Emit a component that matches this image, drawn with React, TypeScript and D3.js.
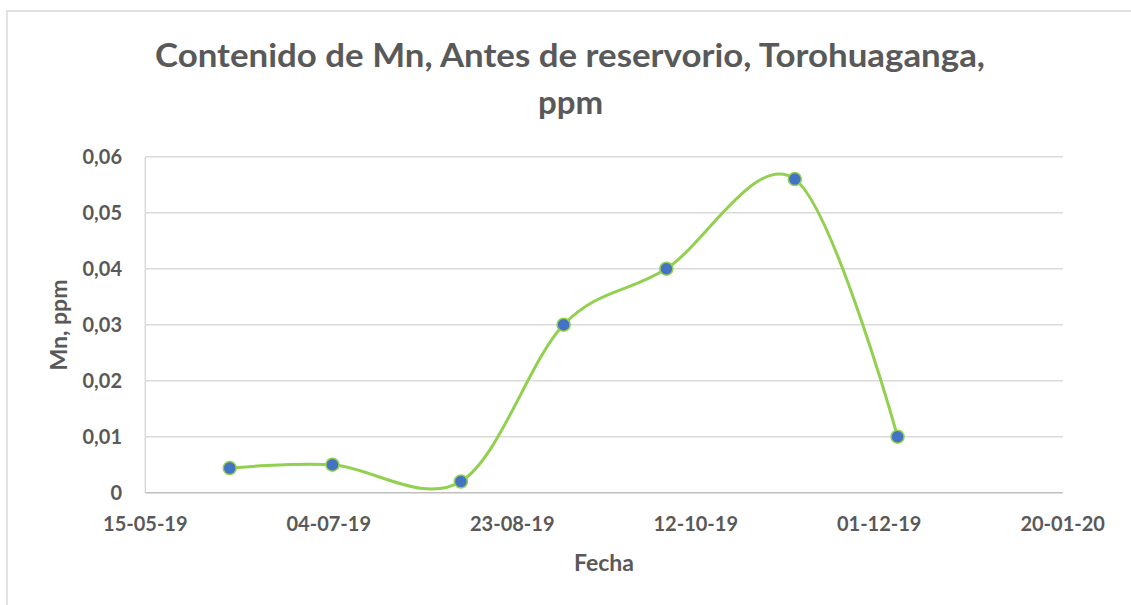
import React from "react";
import * as d3 from "d3";

const titleLines = ["Contenido de Mn, Antes de reservorio, Torohuaganga,", "ppm"];
const xAxisTitle = "Fecha";
const yAxisTitle = "Mn, ppm";

const sampleDates = ["07-06-19", "05-07-19", "09-08-19", "06-09-19", "04-10-19", "08-11-19", "06-12-19"];
const mnValues = [0.0044, 0.005, 0.002, 0.03, 0.04, 0.056, 0.01];

const xTickLabels = ["15-05-19", "04-07-19", "23-08-19", "12-10-19", "01-12-19", "20-01-20"];
const yTickValues = [0, 0.01, 0.02, 0.03, 0.04, 0.05, 0.06];

const W = 1131;
const H = 605;
const parse = d3.timeParse("%d-%m-%y");
const FONT = "Lato, 'Open Sans', sans-serif";
const TXT = "#595959";

export default function App() {
  const xTicks = xTickLabels.map((s) => parse(s) as Date);
  const x = d3
    .scaleTime()
    .domain([xTicks[0], xTicks[xTicks.length - 1]])
    .range([145.3, 1062.7]);
  const y = d3.scaleLinear().domain([0, 0.06]).range([492.7, 156.7]);

  const pts = sampleDates.map((d, i) => ({ d: parse(d) as Date, v: mnValues[i] }));
  const line = d3
    .line<{ d: Date; v: number }>()
    .x((p) => x(p.d))
    .y((p) => y(p.v))
    .curve(d3.curveCardinal.tension(0));

  const fmt = (v: number) => (v === 0 ? "0" : v.toFixed(2).replace(".", ","));

  return (
    <svg
      width={W}
      height={H}
      style={{ position: "absolute", left: 0, top: 0, background: "#fff" }}
      fontFamily={FONT}
    >
      <rect x={0} y={0} width={W} height={H} fill="#fff" />
      <rect x={7} y={11} width={1140} height={620} fill="#fff" stroke="#D9D9D9" strokeWidth={1.5} />

      {/* title */}
      <text x={570} y={67.3} textAnchor="middle" fontSize={33} fontWeight="bold" fill={TXT} textLength={830} lengthAdjust="spacingAndGlyphs">
        {titleLines[0]}
      </text>
      <text x={570.5} y={114.3} textAnchor="middle" fontSize={33} fontWeight="bold" fill={TXT}>
        {titleLines[1]}
      </text>

      {/* gridlines */}
      {yTickValues.map((v) =>
        v === 0 ? null : (
          <line key={v} x1={x.range()[0]} x2={x.range()[1]} y1={y(v)} y2={y(v)} stroke="#D9D9D9" strokeWidth={1.5} />
        )
      )}
      {/* axes lines */}
      <line x1={x.range()[0]} x2={x.range()[0]} y1={y(0.06)} y2={y(0)} stroke="#D9D9D9" strokeWidth={1.5} />
      <line x1={x.range()[0]} x2={x.range()[1]} y1={y(0)} y2={y(0)} stroke="#BFBFBF" strokeWidth={1.5} />

      {/* y tick labels */}
      {yTickValues.map((v) => (
        <text key={v} x={122} y={y(v) + 7.5} textAnchor="end" fontSize={20} fontWeight="bold" fill={TXT}>
          {fmt(v)}
        </text>
      ))}
      {/* x tick labels */}
      {xTicks.map((d, i) => (
        <text key={i} x={x(d)} y={531} textAnchor="middle" fontSize={20} fontWeight="bold" fill={TXT}>
          {xTickLabels[i]}
        </text>
      ))}

      {/* axis titles */}
      <text x={604} y={570.7} textAnchor="middle" fontSize={23} fontWeight="bold" fill={TXT}>
        {xAxisTitle}
      </text>
      <text transform="translate(66.5,325) rotate(-90)" textAnchor="middle" fontSize={23} fontWeight="bold" fill={TXT}>
        {yAxisTitle}
      </text>

      {/* series */}
      <path d={line(pts) || ""} fill="none" stroke="#92D050" strokeWidth={3} strokeLinejoin="round" />
      {pts.map((p, i) => (
        <circle key={i} cx={x(p.d)} cy={y(p.v)} r={6.5} fill="#4472C4" stroke="#92D050" strokeWidth={1.5} />
      ))}
    </svg>
  );
}
